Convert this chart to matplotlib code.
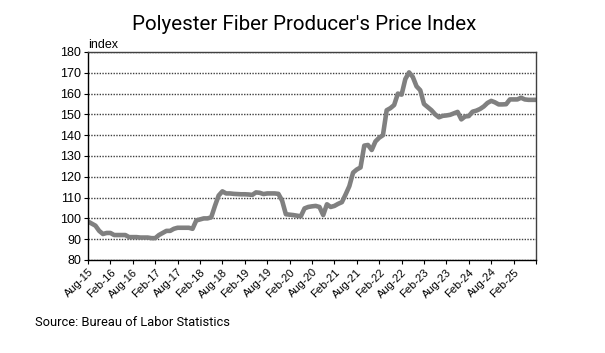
import numpy as np
import matplotlib.pyplot as plt

# monthly PPI values, Aug-15 .. Aug-25
ppi = [98.5, 97.5, 96.5, 94, 92.5, 93, 93, 92, 92, 92, 92, 91,
       91, 91, 90.8, 90.8, 90.8, 90.5, 90.5, 92, 93, 94, 94, 95,
       95.5, 95.5, 95.5, 95.5, 95, 99, 99.5, 100, 100, 100.5, 106, 111,
       113, 112, 112, 111.8, 111.7, 111.6, 111.6, 111.5, 111.3, 112.5, 112.3, 111.7,
       112, 112, 112, 111.8, 108.5, 102, 101.8, 101.6, 101.3, 101, 104.8, 105.5,
       105.8, 106, 105.5, 101.6, 106.8, 105.5, 106, 107, 107.8, 111.5, 115.5, 122,
       123.5, 124.5, 135, 135.3, 132.9, 137, 138.8, 140, 152, 153, 154.5, 160,
       159.5, 167, 170.2, 168, 163.5, 161.6, 155, 153.5, 152, 150, 148.6, 149.3,
       149.5, 149.8, 150.5, 151.2, 147.6, 149, 149.2, 151.3, 151.8, 152.6, 153.8, 155.5,
       156.5, 155.8, 154.8, 154.8, 154.9, 157.2, 157.2, 157.2, 158, 157.2, 157, 157,
       157]
tick_labels = ['Aug-15', 'Feb-16', 'Aug-16', 'Feb-17', 'Aug-17', 'Feb-18', 'Aug-18',
               'Feb-19', 'Aug-19', 'Feb-20', 'Aug-20', 'Feb-21', 'Aug-21', 'Feb-22',
               'Aug-22', 'Feb-23', 'Aug-23', 'Feb-24', 'Aug-24', 'Feb-25', '']

fig = plt.figure(figsize=(6.05, 3.53), dpi=100)
ax = fig.add_axes([88/605, 1-260/353, (536-88)/605, (260-52)/353])

months = np.arange(len(ppi))
ax.plot(months, ppi, color='#808080', lw=3.3, solid_joinstyle='round')

ax.set_xlim(0, 120)
ax.set_ylim(80, 180)
ax.set_yticks(np.arange(80, 181, 10))
ax.set_xticks(np.arange(0, 121, 6))
ax.set_xticklabels(tick_labels, rotation=45, ha='right', rotation_mode='anchor',
                   fontsize=8, family='Liberation Sans')
for lbl in ax.get_yticklabels():
    lbl.set_family('Liberation Sans')
    lbl.set_fontsize(9)
ax.tick_params(axis='x', length=3, pad=2)
ax.tick_params(axis='y', length=3, pad=2)

ax.yaxis.grid(True, linestyle=(0, (1, 1)), color='#404040', lw=1.0)
ax.set_axisbelow(True)
for s in ax.spines.values():
    s.set_color('#404040')
    s.set_linewidth(1.0)
ax.spines['left'].set_color('black')
ax.spines['bottom'].set_color('black')

ax.text(0.0, 1.005, 'index', transform=ax.transAxes, fontsize=9,
        family='Liberation Sans', ha='left', va='bottom')
fig.text(304/605, 0.93, "Polyester Fiber Producer's Price Index", ha='center',
         va='center', fontsize=14.8, family='Roboto')
fig.text(35/605, 1-322/353, 'Source: Bureau of Labor Statistics', ha='left',
         va='center', fontsize=9.3, family='Roboto')

plt.savefig('out.png')
